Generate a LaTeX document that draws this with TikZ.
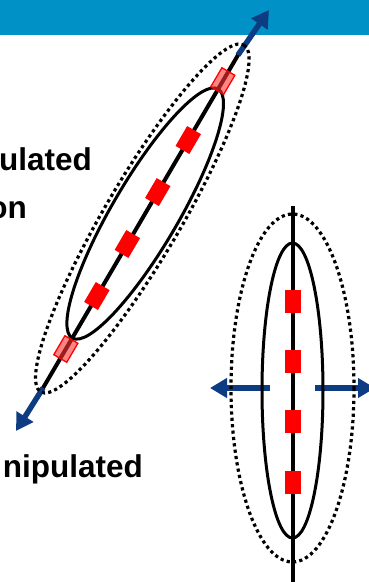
\documentclass[tikz,border=0pt]{standalone}
\usepackage{fontspec}
\setmainfont{Liberation Sans}
\usetikzlibrary{arrows.meta}
\definecolor{barblue}{RGB}{0,146,198}
\definecolor{arrblue}{RGB}{14,60,130}
\begin{document}
\begin{tikzpicture}[x=1pt,y=-1pt,
  blk/.style={line width=4pt},
  ell/.style={line width=3pt},
  dotell/.style={line width=3.2pt, dash pattern=on 3.2pt off 3.2pt},
  redbox/.style={fill=red, draw=none, minimum width=23pt, minimum height=16pt, inner sep=0pt, outer sep=0pt},
  hatchbox/.style={fill=red!80, fill opacity=0.6, draw=red, draw opacity=1, line width=1.3pt, minimum width=22pt, minimum height=15pt, inner sep=0pt, outer sep=0pt},
  barrow/.style={draw=arrblue, line width=5.5pt, -{Triangle[length=17pt, width=19pt]}},
  txt/.style={font=\fontsize{31.5}{38}\selectfont\bfseries, inner sep=0pt, anchor=base east}
]
\useasboundingbox (0,0) rectangle (369,582);
\clip (0,0) rectangle (369,582);
% top bar
\fill[barblue] (0,0) rectangle (369,35);

% texts
\node[txt] (t1) at (92,170) {ulated};
\node[txt] (t2) at (27,218) {on};
\node[txt] (t3) at (143,477) {nipulated};

% ---------- left (stretched) figure ----------
\coordinate (lbot) at (43,388);
\coordinate (ltop) at (238,55);
\coordinate (ltip) at (269,10);
\coordinate (lbtip) at (16,431);
\draw[barrow] (ltop) -- (ltip);
\draw[barrow] (lbot) -- (lbtip);
\begin{scope}[shift={(43,388)}, rotate=59.64]
  \draw[dotell] (196.5,0) ellipse [x radius=201, y radius=38];
  \draw[ell] (202.2,0) ellipse [x radius=144.3, y radius=33];
  \draw[blk] (0,0) -- (386,0);
  \node[redbox, transform shape] (l1) at (106.6,0) {};
  \node[redbox, transform shape] (l2) at (166.9,0) {};
  \node[redbox, transform shape] (l3) at (227.1,0) {};
  \node[redbox, transform shape] (l4) at (287.4,0) {};
  \node[hatchbox, transform shape] (h1) at (45.2,0) {};
  \node[hatchbox, transform shape] (h2) at (355.8,0) {};
\end{scope}

% ---------- right (widened) figure ----------
\coordinate (rl0) at (270,388);
\coordinate (rl1) at (210,388);
\coordinate (rr0) at (315,388);
\coordinate (rr1) at (375,388);
\draw[barrow] (rl0) -- (rl1);
\draw[barrow] (rr0) -- (rr1);
\draw[dotell] (292.5,388) ellipse [x radius=61.5, y radius=174];
\draw[ell] (292.5,390.5) ellipse [x radius=30.5, y radius=147.5];
\coordinate (vtop) at (293,206);
\coordinate (vbot) at (293,590);
\draw[blk] (vtop) -- (vbot);
\node[redbox, rotate=90] (r1) at (293,301) {};
\node[redbox, rotate=90] (r2) at (293,361) {};
\node[redbox, rotate=90] (r3) at (293,421.5) {};
\node[redbox, rotate=90] (r4) at (293,482.5) {};
\end{tikzpicture}
\end{document}
